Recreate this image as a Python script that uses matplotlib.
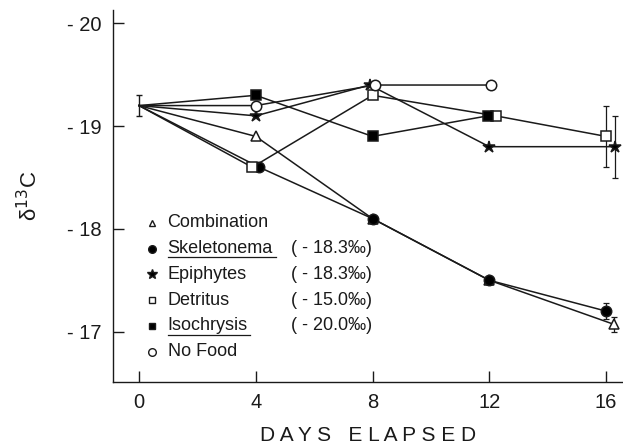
import matplotlib.pyplot as plt

plt.rcParams["font.family"] = ["Liberation Sans", "DejaVu Sans"]

# delta 13C values (per series, by day)
days = [0, 4, 8, 12, 16]
combination = [-19.2, -18.9, -18.1, -17.5, -17.07]
skeletonema = [-19.2, -18.6, -18.1, -17.5, -17.2]
epiphytes = [-19.2, -19.1, -19.4, -18.8, -18.8]
detritus = [-19.2, -18.6, -19.3, -19.1, -18.9]
isochrysis = [-19.2, -19.3, -18.9, -19.1]
no_food = [-19.2, -19.2, -19.4, -19.4]

start_err = 0.1
end_err = {"Combination": 0.07, "Skeletonema": 0.08, "Epiphytes": 0.3, "Detritus": 0.3}

names = ["Combination", "Skeletonema", "Epiphytes", "Detritus", "Isochrysis", "No Food"]
food_values = ["", "( - 18.3\u2030)", "( - 18.3\u2030)", "( - 15.0\u2030)", "( - 20.0\u2030)", ""]
underlined = ["Skeletonema", "Isochrysis"]

yticks = [-20, -19, -18, -17]
ytick_labels = ["- 20", "- 19", "- 18", "- 17"]

series = {
    "Combination": combination,
    "Skeletonema": skeletonema,
    "Epiphytes": epiphytes,
    "Detritus": detritus,
    "Isochrysis": isochrysis,
    "No Food": no_food,
}

# small horizontal nudges so overlapping symbols sit side by side
nudge = {
    "Combination": [0, 0, 0, 0, 0.28],
    "Skeletonema": [0, 0.12, 0, 0, 0],
    "Epiphytes": [0, 0, -0.1, 0, 0.3],
    "Detritus": [0, -0.12, 0, 0.22, 0],
    "Isochrysis": [0, 0, 0, -0.05],
    "No Food": [0, 0, 0.08, 0.05],
}

styles = {
    "Combination": dict(marker="^", mfc="white", ms=7),
    "Skeletonema": dict(marker="o", mfc="black", ms=7.5),
    "Epiphytes": dict(marker="*", mfc="black", ms=9),
    "Detritus": dict(marker="s", mfc="white", ms=6.5),
    "Isochrysis": dict(marker="s", mfc="black", ms=6.5),
    "No Food": dict(marker="o", mfc="white", ms=7.5),
}

fig = plt.figure(figsize=(6.23, 4.47), dpi=100)
ax = fig.add_axes([0.1814, 0.1454, 0.8186, 0.8322])

ink = "#1a1a1a"
for name in names:
    y = series[name]
    x = [d + n for d, n in zip(days, nudge[name])]
    # no symbol at day 0, only the shared error bar
    ax.plot(x, y, color=ink, lw=1.1, mec=ink, mew=1.1, zorder=3,
            markevery=slice(1, None), **styles[name])
    if name in end_err:
        ax.errorbar(x[-1], y[-1], yerr=end_err[name], fmt="none", ecolor=ink,
                    elinewidth=0.9, capsize=2.5, capthick=0.9, zorder=2)

ax.errorbar(days[0], combination[0], yerr=start_err, fmt="none", ecolor=ink,
            elinewidth=1.0, capsize=2.5, capthick=1.0, zorder=2)

# hand-made key inside the axes
key_x, text_x, val_x = 0.45, 0.98, 5.2
row_y0, row_dy = -18.06, 0.251
fig.canvas.draw()
renderer = fig.canvas.get_renderer()
for i, name in enumerate(names):
    yy = row_y0 + i * row_dy
    st = dict(styles[name])
    st["ms"] = st["ms"] - 2
    ax.plot([key_x], [yy], color=ink, mec=ink, mew=1.0, ls="none", **st)
    t = ax.text(text_x, yy, name, fontsize=13, va="center", ha="left", color=ink)
    if food_values[i]:
        ax.text(val_x, yy, food_values[i], fontsize=13, va="center", ha="left", color=ink)
    if name in underlined:
        bb = t.get_window_extent(renderer).transformed(ax.transData.inverted())
        ax.plot([bb.x0, bb.x1], [yy + 0.085, yy + 0.085], color=ink, lw=0.9)

ax.set_xlim(-0.89, 16.58)
ax.set_ylim(-16.51, -20.13)
ax.set_xticks(days)
ax.set_yticks(yticks)
ax.set_yticklabels(ytick_labels)
ax.tick_params(direction="in", length=8, width=1.0, labelsize=14.5, colors=ink, pad=8)
ax.spines["top"].set_visible(False)
ax.spines["right"].set_visible(False)
for s in ["left", "bottom"]:
    ax.spines[s].set_linewidth(1.0)
    ax.spines[s].set_color(ink)

ax.set_xlabel("D A Y S   E L A P S E D", fontsize=15, color=ink, labelpad=10)
ax.set_ylabel("\u03b4$^{13}$C", fontsize=16, color=ink, labelpad=18)

fig.savefig("out.png", dpi=100)
